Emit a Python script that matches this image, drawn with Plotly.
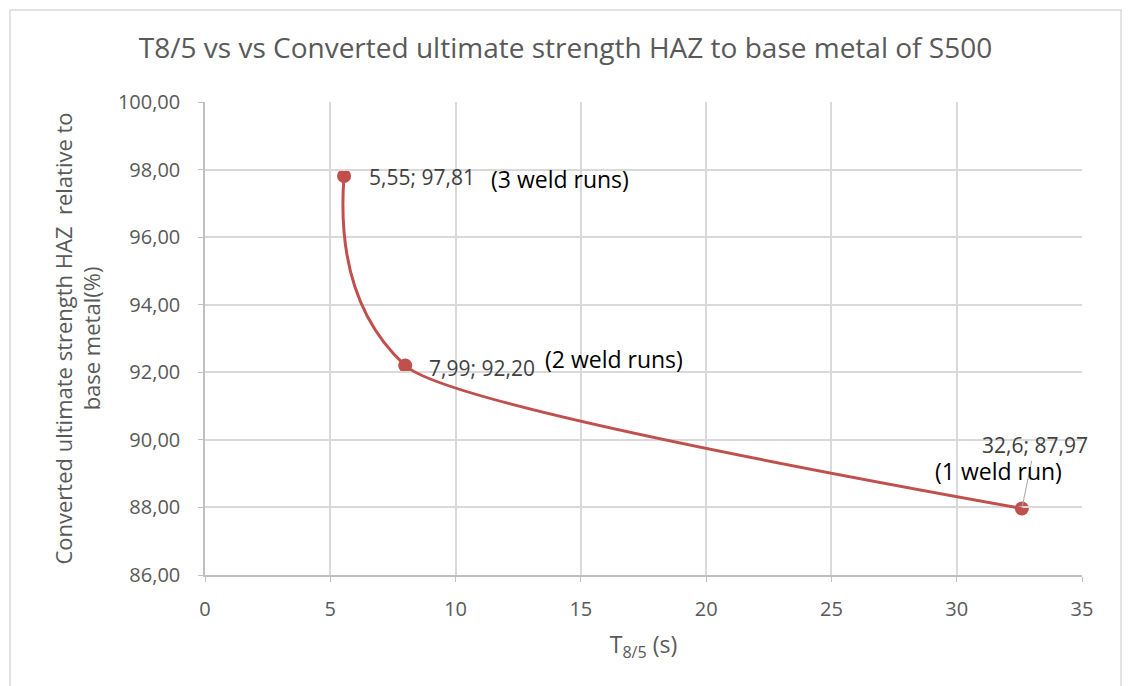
import plotly.graph_objects as go

t85 = [5.55, 7.99, 32.6]
strength = [97.81, 92.20, 87.97]
value_labels = ["5,55; 97,81", "7,99; 92,20", "32,6; 87,97"]
run_labels = ["(3 weld runs)", "(2 weld runs)", "(1 weld run)"]
x_ticks = [0, 5, 10, 15, 20, 25, 30, 35]
y_ticks = [86, 88, 90, 92, 94, 96, 98, 100]

X_MAX = 35
FONT = "Open Sans"
RED = "#c0504d"

# split point for the smoothed curve (the middle data point)
cut = t85[1] / X_MAX

fig = go.Figure()
# first segment of smooth curve (clipped to x <= middle point)
fig.add_trace(go.Scatter(
    x=t85, y=strength, mode="lines", xaxis="x2", yaxis="y",
    line=dict(color=RED, width=3, shape="spline", smoothing=1.3, simplify=False),
    showlegend=False, hoverinfo="skip",
))
# second segment of smooth curve (clipped to x >= middle point)
fig.add_trace(go.Scatter(
    x=t85, y=strength, mode="lines", xaxis="x3", yaxis="y",
    line=dict(color=RED, width=3, shape="spline", smoothing=0.45, simplify=False),
    showlegend=False, hoverinfo="skip",
))
# markers
fig.add_trace(go.Scatter(
    x=t85, y=strength, mode="markers",
    marker=dict(color=RED, size=14),
    showlegend=False, hoverinfo="x+y",
))

# value labels
fig.add_annotation(x=t85[0], y=strength[0], text=value_labels[0], showarrow=False,
                   xanchor="left", xshift=23, yshift=-1,
                   font=dict(family=FONT, size=21, color="#404040"))
fig.add_annotation(x=t85[1], y=strength[1], text=value_labels[1], showarrow=False,
                   xanchor="left", xshift=22, yshift=-2,
                   font=dict(family=FONT, size=21, color="#404040"))
fig.add_annotation(x=t85[2], y=strength[2], text=value_labels[2], showarrow=True,
                   arrowhead=0, arrowwidth=1, arrowcolor="#a6a6a6",
                   ax=13, ay=-63,
                   font=dict(family=FONT, size=21, color="#404040"))
# run labels
fig.add_annotation(x=t85[0], y=strength[0], text=run_labels[0], showarrow=False,
                   xanchor="left", xshift=145, yshift=-3,
                   font=dict(family=FONT, size=23, color="#000000"))
fig.add_annotation(x=t85[1], y=strength[1], text=run_labels[1], showarrow=False,
                   xanchor="left", xshift=138, yshift=7,
                   font=dict(family=FONT, size=23, color="#000000"))
fig.add_annotation(x=t85[2], y=strength[2], text=run_labels[2], showarrow=False,
                   xanchor="center", xshift=-23, yshift=37,
                   font=dict(family=FONT, size=23, color="#000000"))

hidden = dict(visible=False, showgrid=False, zeroline=False, anchor="y", fixedrange=True)

fig.update_layout(
    width=1131, height=686,
    margin=dict(l=205, r=49, t=102, b=111),
    paper_bgcolor="white", plot_bgcolor="rgba(0,0,0,0)",
    separators=",.",
    font=dict(family=FONT, color="#595959"),
    title=dict(text="T8/5 vs vs Converted ultimate strength HAZ to base metal of S500",
               x=0.5, xanchor="center", xref="container",
               y=0.93, yanchor="middle", yref="container",
               font=dict(family=FONT, size=28, color="#595959")),
    xaxis=dict(range=[0, X_MAX], tickvals=x_ticks, showgrid=True, gridcolor="#d9d9d9",
               gridwidth=1.5, zeroline=False, showline=True, linecolor="#bfbfbf",
               linewidth=1.5, ticks="outside", ticklen=5, tickcolor="#bfbfbf",
               ticklabelstandoff=10,
               tickfont=dict(size=20, color="#595959"),
               title=dict(text="T<sub>8/5</sub> (s)", font=dict(size=23, color="#595959"),
                          standoff=16)),
    xaxis2=dict(domain=[0, cut], range=[0, t85[1]], **hidden),
    xaxis3=dict(domain=[cut, 1], range=[t85[1], X_MAX], **hidden),
    yaxis=dict(range=[86, 100], tickvals=y_ticks, tickformat=".2f", showgrid=True,
               gridcolor="#d9d9d9", gridwidth=1.5, zeroline=False, showline=True,
               linecolor="#bfbfbf", linewidth=1.5, ticks="outside", ticklen=5,
               tickcolor="#bfbfbf", ticklabelstandoff=14,
               tickfont=dict(size=20, color="#595959"),
               title=dict(text="Converted ultimate strength HAZ  relative to<br>base metal(%)",
                          font=dict(size=22, color="#595959"), standoff=11)),
    shapes=[dict(type="rect", xref="paper", yref="paper",
                 x0=-0.2224, x1=1.0445, y0=-0.25, y1=1.1945,
                 line=dict(color="#d9d9d9", width=1.5), layer="below")],
)

fig.write_html("out.html")
